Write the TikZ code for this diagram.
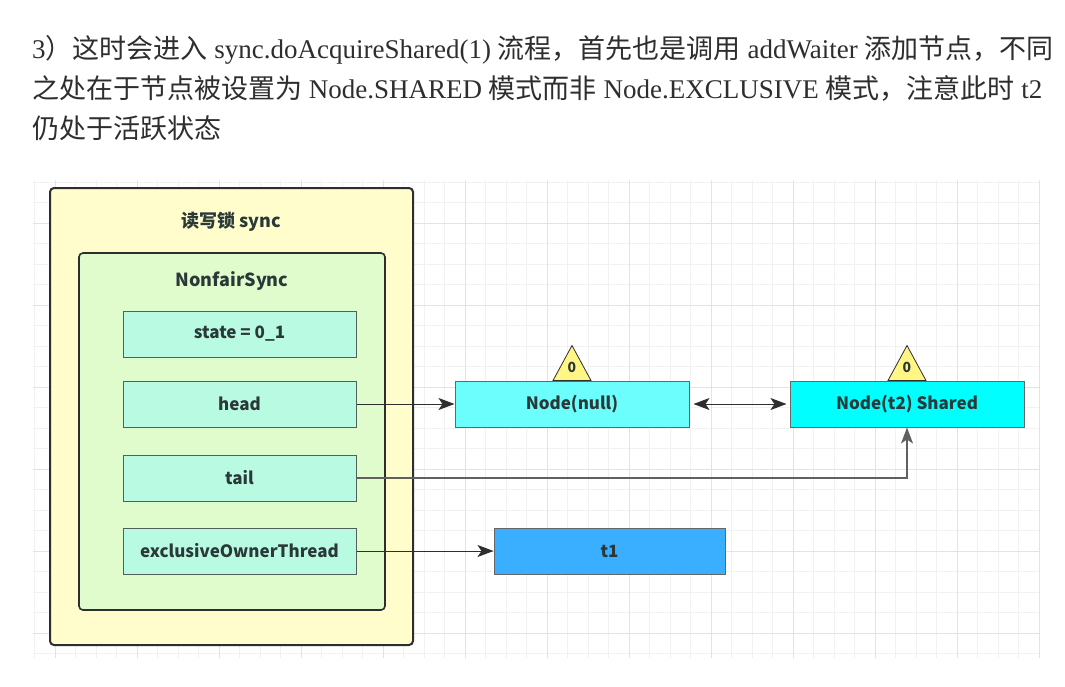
\documentclass[tikz,border=0pt]{standalone}
\usepackage{fontspec}
\setmainfont{Liberation Serif}
\newfontfamily\cjk{Noto Sans CJK SC}
\usetikzlibrary{arrows.meta,positioning}

\definecolor{textgray}{HTML}{2E2E2E}
\definecolor{labelink}{HTML}{2B3838}
\definecolor{lockfill}{HTML}{FFFDCC}
\definecolor{syncfill}{HTML}{E0FBCC}
\definecolor{fieldfill}{HTML}{B9FAE2}
\definecolor{fieldline}{HTML}{52605A}
\definecolor{nullfill}{HTML}{6CFDFD}
\definecolor{sharedfill}{HTML}{00FFFF}
\definecolor{threadfill}{HTML}{3AAFFF}
\definecolor{flagfill}{HTML}{FFF685}
\definecolor{gridminor}{HTML}{F1F1F1}
\definecolor{gridmajor}{HTML}{E3E3E3}

\tikzset{
  para/.style={anchor=base west,inner sep=0pt,text=textgray,
    font=\fontsize{27}{40}\selectfont},
  lockbox/.style={draw=textgray,line width=2pt,rounded corners=4pt,fill=lockfill,
    minimum width=363pt,minimum height=457pt,inner sep=0pt},
  syncbox/.style={draw=textgray,line width=1.6pt,rounded corners=4pt,fill=syncfill,
    minimum width=306pt,minimum height=357pt,inner sep=0pt},
  title/.style={text=labelink,font=\cjk\bfseries\fontsize{18}{21}\selectfont},
  fieldbox/.style={draw=fieldline,line width=1pt,fill=fieldfill,
    minimum width=233pt,minimum height=46pt,inner sep=0pt,
    text=labelink,font=\cjk\bfseries\fontsize{17}{20}\selectfont},
  qnode/.style={fieldbox,draw=gray!80!black,minimum width=234pt},
  flagtri/.style={draw=textgray,line width=0.8pt,fill=flagfill},
  tip/.style={Stealth[length=16pt,width=12pt,inset=4pt]},
  link/.style={draw=textgray,line width=1pt,-{Stealth[length=16pt,width=12pt,inset=4pt]}},
  taillink/.style={link,draw=gray!75!black,line width=1.6pt},
}

\begin{document}
\begin{tikzpicture}[x=1pt,y=-1pt]
\useasboundingbox (0,0) rectangle (1065,686);
\fill[white] (0,0) rectangle (1065,686);

% text above the diagram
\node[para] (line1) at (32,58) {3{\cjk）这时会进入} sync.doAcquireShared(1) {\cjk 流程，首先也是调用} addWaiter {\cjk 添加节点，不同}};
\node[para] (line2) at (32,98) {{\cjk 之处在于节点被设置为} Node.SHARED {\cjk 模式而非} Node.EXCLUSIVE {\cjk 模式，注意此时} t2};
\node[para] (line3) at (32,138) {{\cjk 仍处于活跃状态}};

% grid
\foreach \i in {0,...,49}
  \draw[gridminor,line width=0.8pt] ({1039-20.5*\i},180) -- ({1039-20.5*\i},658);
\foreach \j in {-1,...,22}
  \draw[gridminor,line width=0.8pt] (33,{633-20.5*\j}) -- (1039,{633-20.5*\j});
\foreach \i in {0,...,12}
  \draw[gridmajor,line width=1pt] ({1039-82*\i},180) -- ({1039-82*\i},658);
\foreach \j in {0,...,5}
  \draw[gridmajor,line width=1pt] (33,{633-82*\j}) -- (1039,{633-82*\j});

% read/write lock
\node[lockbox] (lock) at (231.5,416.5) {};
\node[title] (locktitle) at (231.5,222) {读写锁 sync};
\node[syncbox] (sync) at (232,431.5) {};
\node[title] (synctitle) at (232,281) {NonfairSync};

% fields
\node[fieldbox] (state) at (239.5,334) {state = 0\_1};
\node[fieldbox] (head) at (239.5,404) {head};
\node[fieldbox] (tail) at (239.5,478) {tail};
\node[fieldbox] (owner) at (239.5,551) {exclusiveOwnerThread};

% queue
\node[qnode,fill=nullfill] (nnull) at (572,404) {Node(null)};
\node[qnode,fill=sharedfill] (nt2) at (907,404) {Node(t2) Shared};
\node[qnode,fill=threadfill,minimum width=231pt] (t1) at (609.5,551) {t1};

% waitStatus flags
\foreach \n in {nnull,nt2} {
  \draw[flagtri] ([xshift=-19pt]\n.north) -- ([yshift=35pt]\n.north) -- ([xshift=19pt]\n.north) -- cycle;
  \node[title,font=\cjk\bfseries\fontsize{14}{16}\selectfont] (flag-\n) at ([yshift=13pt]\n.north) {0};
}

% links
\draw[link] (head) -- (nnull);
\draw[link,{Stealth[length=16pt,width=12pt,inset=4pt]}-{Stealth[length=16pt,width=12pt,inset=4pt]},shorten <=4pt,shorten >=3pt] (nnull) -- (nt2);
\draw[taillink] (tail.east) -| (nt2.south);
\draw[link] (owner) -- (t1);
\end{tikzpicture}
\end{document}
